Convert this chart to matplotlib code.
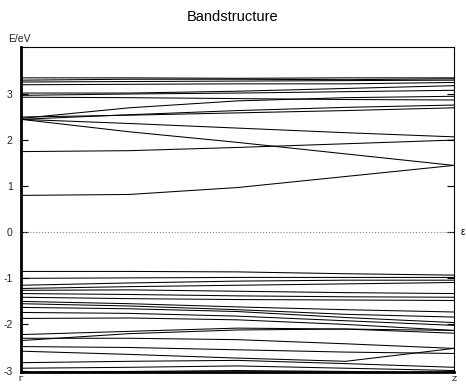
import matplotlib
matplotlib.use('Agg')
import matplotlib.pyplot as plt

plt.rcParams['font.family'] = ['Liberation Sans', 'DejaVu Sans']

# k path from Gamma to Z, sampled at 5 points
k = [0.0, 0.25, 0.5, 0.75, 1.0]
k_labels = ['Γ', 'Z']

# conduction bands (eV)
conduction = [
    [0.80, 0.82, 0.97, 1.21, 1.45],
    [1.75, 1.77, 1.84, 1.92, 2.00],
    [2.45, 2.18, 1.95, 1.70, 1.45],
    [2.45, 2.36, 2.26, 2.16, 2.07],
    [2.47, 2.70, 2.85, 2.92, 2.95],
    [2.45, 2.55, 2.64, 2.71, 2.76],
    [2.50, 2.54, 2.59, 2.64, 2.70],
    [2.93, 2.92, 2.90, 2.88, 2.87],
    [2.97, 3.00, 3.02, 3.05, 3.08],
    [3.02, 3.02, 3.06, 3.12, 3.18],
    [3.20, 3.21, 3.22, 3.22, 3.25],
    [3.26, 3.27, 3.28, 3.29, 3.30],
    [3.30, 3.32, 3.32, 3.31, 3.33],
    [3.35, 3.35, 3.34, 3.35, 3.35],
]

# valence bands (eV)
valence = [
    [-0.85, -0.85, -0.86, -0.90, -0.93],
    [-1.00, -0.99, -0.98, -0.98, -0.98],
    [-1.15, -1.10, -1.06, -1.04, -1.04],
    [-1.22, -1.18, -1.15, -1.12, -1.09],
    [-1.26, -1.25, -1.28, -1.31, -1.33],
    [-1.33, -1.35, -1.38, -1.40, -1.41],
    [-1.41, -1.44, -1.46, -1.47, -1.48],
    [-1.50, -1.55, -1.62, -1.68, -1.73],
    [-1.55, -1.60, -1.68, -1.78, -1.84],
    [-1.63, -1.66, -1.72, -1.85, -1.96],
    [-1.74, -1.76, -1.82, -1.92, -2.02],
    [-1.87, -1.86, -1.90, -2.00, -2.13],
    [-2.22, -2.15, -2.08, -2.10, -2.19],
    [-2.35, -2.20, -2.12, -2.10, -2.13],
    [-2.30, -2.30, -2.33, -2.42, -2.52],
    [-2.48, -2.50, -2.55, -2.60, -2.63],
    [-2.58, -2.65, -2.73, -2.80, -2.52],
    [-2.83, -2.80, -2.78, -2.85, -2.93],
    [-2.95, -2.93, -2.90, -2.95, -3.00],
    [-3.04, -3.02, -3.00, -3.02, -3.07],
]

y_ticks = [-3, -2, -1, 0, 1, 2, 3]

fig = plt.figure(figsize=(4.66, 3.85), dpi=100)
ax = fig.add_axes([0.045, 0.034, 0.929, 0.844])

for band in conduction + valence:
    ax.plot(k, band, color='black', lw=0.75)

ax.axhline(0, color='gray', lw=0.8, ls=':')

ax.set_xlim(0, 1)
ax.set_ylim(-3.03, 4.02)
ax.set_yticks(y_ticks)
ax.set_yticklabels([str(t) for t in y_ticks], fontsize=7.5, color='#222222')
ax.tick_params(axis='y', direction='in', length=5, pad=6, right=True)
ax.set_xticks(k[::4])
ax.set_xticklabels(k_labels, fontsize=6)
ax.tick_params(axis='x', length=0, pad=3)

ax.spines['left'].set_linewidth(2)
ax.spines['bottom'].set_linewidth(2)
ax.spines['top'].set_linewidth(0.8)
ax.spines['right'].set_linewidth(0.8)

fig.text(0.5, 0.955, 'Bandstructure', ha='center', va='center', fontsize=10.5)
fig.text(0.018, 0.9, 'E/eV', ha='left', va='center', fontsize=7.5, color='#222222')
ax.text(1.015, 0, 'ε', transform=ax.get_yaxis_transform(), ha='left', va='center', fontsize=7)

fig.savefig('out.png', dpi=100)
